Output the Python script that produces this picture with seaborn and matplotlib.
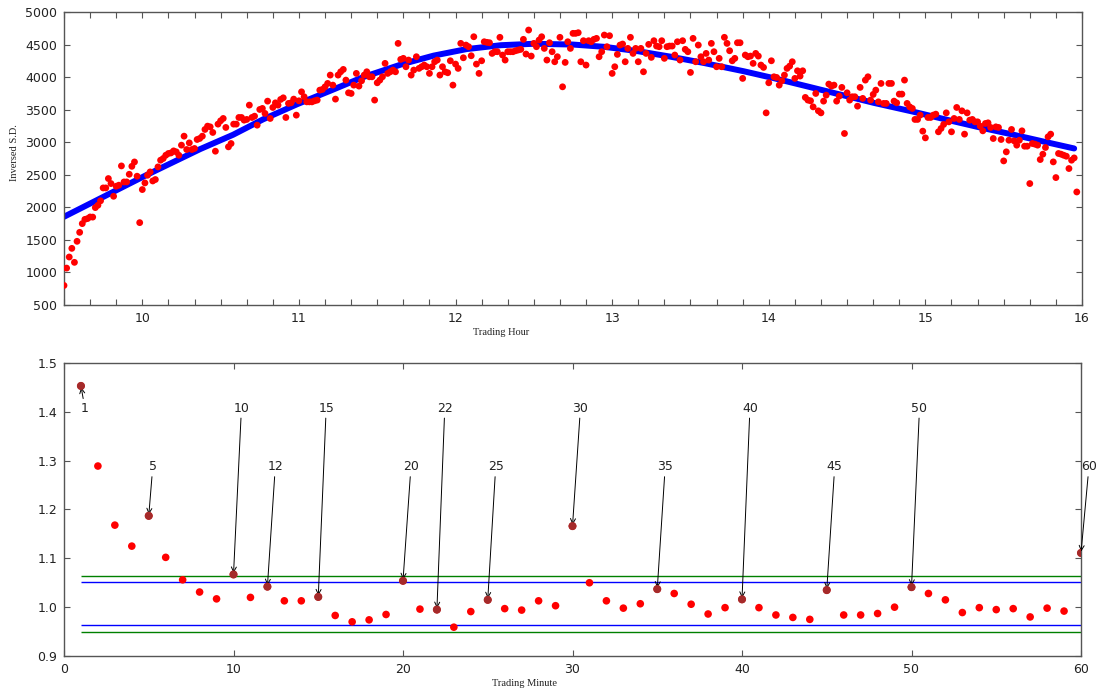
import matplotlib
matplotlib.use("Agg")
import matplotlib.pyplot as plt
from matplotlib.ticker import MultipleLocator
import seaborn as sns

sns.set_style("ticks")
plt.rcParams["font.family"] = ["DejaVu Sans"]

# Inverse standard deviation for each trading minute, starting 9:30
inv_sd = [
    800, 1067, 1237, 1370, 1155, 1478, 1616, 1750, 1815, 1827,
    1852, 1850, 1996, 2032, 2100, 2298, 2298, 2442, 2365, 2170,
    2324, 2340, 2636, 2390, 2390, 2508, 2630, 2697, 2478, 1765,
    2273, 2375, 2493, 2544, 2405, 2427, 2621, 2724, 2750, 2800,
    2827, 2836, 2867, 2852, 2800, 2955, 3093, 2888, 2990, 2888,
    2904, 3042, 3058, 3093, 3196, 3247, 3236, 3150, 2862, 3278,
    3329, 3365, 3227, 2929, 2980, 3278, 3278, 3380, 3380, 3339,
    3350, 3570, 3380, 3400, 3262, 3503, 3519, 3442, 3631, 3365,
    3534, 3605, 3570, 3657, 3682, 3380, 3596, 3605, 3662, 3416,
    3636, 3774, 3698, 3620, 3620, 3620, 3636, 3647, 3800, 3811,
    3851, 3903, 4031, 3877, 3662, 4031, 4082, 4118, 3954, 3759,
    3749, 3877, 4057, 3862, 3943, 4031, 4082, 4005, 4005, 3647,
    3913, 3954, 4005, 4211, 4057, 4082, 4108, 4082, 4518, 4272,
    4288, 4159, 4262, 4031, 4108, 4313, 4134, 4159, 4185, 4159,
    4057, 4159, 4236, 4262, 4031, 4159, 4082, 4067, 4251, 3877,
    4200, 4134, 4518, 4297, 4492, 4467, 4328, 4620, 4200, 4057,
    4251, 4543, 4534, 4528, 4364, 4390, 4390, 4611, 4339, 4262,
    4390, 4390, 4390, 4405, 4416, 4426, 4580, 4354, 4723, 4323,
    4518, 4467, 4569, 4620, 4441, 4262, 4528, 4390, 4236, 4313,
    4611, 3851, 4226, 4543, 4441, 4672, 4672, 4682, 4236, 4559,
    4185, 4559, 4543, 4580, 4595, 4313, 4390, 4646, 4467, 4636,
    4057, 4159, 4349, 4492, 4508, 4236, 4441, 4611, 4364, 4441,
    4236, 4441, 4082, 4364, 4503, 4303, 4559, 4477, 4467, 4559,
    4288, 4467, 4477, 4477, 4339, 4543, 4262, 4559, 4426, 4390,
    4072, 4595, 4236, 4492, 4313, 4236, 4364, 4262, 4518, 4390,
    4159, 4288, 4159, 4611, 4518, 4405, 4251, 4288, 4528, 4528,
    3980, 4339, 4313, 4323, 4211, 4364, 4323, 4185, 4149, 3451,
    3913, 4251, 4005, 3995, 3877, 3943, 4031, 4134, 4169, 4236,
    3980, 4097, 4016, 4097, 3688, 3647, 3636, 3543, 3749, 3482,
    3451, 3631, 3723, 3893, 3862, 3877, 3631, 3708, 3842, 3134,
    3759, 3647, 3698, 3698, 3554, 3842, 3673, 3954, 4005, 3647,
    3734, 3800, 3620, 3903, 3596, 3596, 3903, 3903, 3631, 3605,
    3739, 3739, 3954, 3596, 3543, 3519, 3350, 3350, 3416, 3170,
    3067, 3380, 3380, 3416, 3431, 3160, 3211, 3273, 3451, 3313,
    3160, 3365, 3534, 3350, 3482, 3124, 3451, 3339, 3350, 3313,
    3313, 3247, 3175, 3288, 3298, 3227, 3057, 3236, 3227, 3042,
    2713, 2852, 3031, 3196, 3021, 2955, 3031, 3175, 2939, 2939,
    2365, 2980, 2970, 2955, 2734, 2816, 2919, 3083, 3124, 2698,
    2457, 2827, 2816, 2800, 2785, 2596, 2724, 2759, 2236,
]
trading_hour = [9.5 + m / 60 for m in range(len(inv_sd))]

# Smoothed intraday trend of the inverse S.D.
trend_hour = [9.50, 10.03, 10.37, 10.58, 10.77, 10.99, 11.20, 11.41, 11.66,
              11.86, 12.07, 12.29, 12.50, 12.75, 12.95, 13.16, 13.37, 13.59,
              13.84, 14.03, 14.25, 14.46, 14.67, 14.92, 15.12, 15.33, 15.55,
              15.76, 15.95]
trend_value = [1855, 2500, 2895, 3115, 3350, 3585, 3790, 4000, 4200,
               4330, 4430, 4490, 4512, 4500, 4465, 4400, 4315, 4215,
               4090, 3985, 3855, 3730, 3605, 3470, 3355, 3237, 3122,
               3007, 2904]

# Ratio statistic per trading minute (1..60)
minutes = list(range(1, 61))
ratio = [
    1.453, 1.289, 1.168, 1.125, 1.187, 1.102, 1.056, 1.031, 1.017, 1.067,
    1.020, 1.042, 1.013, 1.013, 1.021, 0.983, 0.970, 0.974, 0.985, 1.054,
    0.996, 0.995, 0.959, 0.991, 1.015, 0.997, 0.994, 1.013, 1.003, 1.166,
    1.050, 1.013, 0.998, 1.007, 1.037, 1.028, 1.006, 0.986, 0.999, 1.016,
    0.999, 0.984, 0.979, 0.975, 1.035, 0.984, 0.984, 0.987, 1.000, 1.041,
    1.028, 1.015, 0.989, 0.999, 0.995, 0.997, 0.980, 0.998, 0.992, 1.111,
]
marked = [1, 5, 10, 12, 15, 20, 22, 25, 30, 35, 40, 45, 50, 60]
label_rows = [1.40, 1.28]
outer_band = [0.950, 1.063]
inner_band = [0.963, 1.051]

W, H = 1102, 694
fig = plt.figure(figsize=(W / 100, H / 100), dpi=100)
fig.patch.set_facecolor("white")
ax1 = fig.add_axes([64 / W, 1 - 305 / H, 1018 / W, 293 / H])
ax2 = fig.add_axes([64 / W, 1 - 656 / H, 1017 / W, 293 / H])

label_font = dict(family="Liberation Serif", fontsize=7.5, color="#222222")

# --- top panel: inverse S.D. across the trading day with its trend ---
sns.lineplot(x=trend_hour, y=trend_value, ax=ax1, color="#0000ff", lw=4.3,
             zorder=2, legend=False)
sns.scatterplot(x=trading_hour, y=inv_sd, ax=ax1, color="#ff0000", s=24,
                edgecolor="none", zorder=3, legend=False)
ax1.set_xlim(9.5, 16)
ax1.set_ylim(500, 5000)
ax1.xaxis.set_major_locator(MultipleLocator(1))
ax1.xaxis.set_minor_locator(MultipleLocator(1 / 6))
ax1.yaxis.set_major_locator(MultipleLocator(500))
ax1.set_xlabel("Trading Hour", **label_font)
ax1.set_ylabel("Inversed S.D.", **label_font)
ax1.xaxis.set_label_coords(0.429, -0.078)
ax1.yaxis.set_label_coords(-0.044, 0.52)

# --- bottom panel: per-minute ratio with bands and labelled minutes ---
ax2.hlines(outer_band, 1, 60, color="#008000", lw=1.0, zorder=1)
ax2.hlines(inner_band, 1, 60, color="#0000ff", lw=1.0, zorder=1)
sns.scatterplot(x=minutes, y=ratio, ax=ax2, color="#ff0000", s=30,
                edgecolor="none", zorder=3, legend=False)
sns.scatterplot(x=marked, y=[ratio[m - 1] for m in marked], ax=ax2,
                color="#a52a2a", s=34, edgecolor="none", zorder=4, legend=False)
for k, m in enumerate(marked):
    ax2.annotate(str(m), xy=(m, ratio[m - 1]), xytext=(m, label_rows[k % 2]),
                 fontsize=9, color="#222222", annotation_clip=False,
                 arrowprops=dict(arrowstyle="->", color="black", lw=0.7,
                                 shrinkA=0, shrinkB=1))
ax2.set_xlim(0, 60)
ax2.set_ylim(0.9, 1.5)
ax2.xaxis.set_major_locator(MultipleLocator(10))
ax2.yaxis.set_major_locator(MultipleLocator(0.1))
ax2.set_xlabel("Trading Minute", **label_font)
ax2.xaxis.set_label_coords(0.453, -0.078)

for ax in (ax1, ax2):
    for sp in ax.spines.values():
        sp.set_visible(True)
        sp.set_color("#555555")
        sp.set_linewidth(1.0)
    ax.tick_params(which="both", direction="in", top=True, right=True,
                   length=4, width=0.8, color="#555555",
                   labelsize=9, labelcolor="#222222", pad=5)

fig.savefig("out.png", dpi=100, facecolor="white")
